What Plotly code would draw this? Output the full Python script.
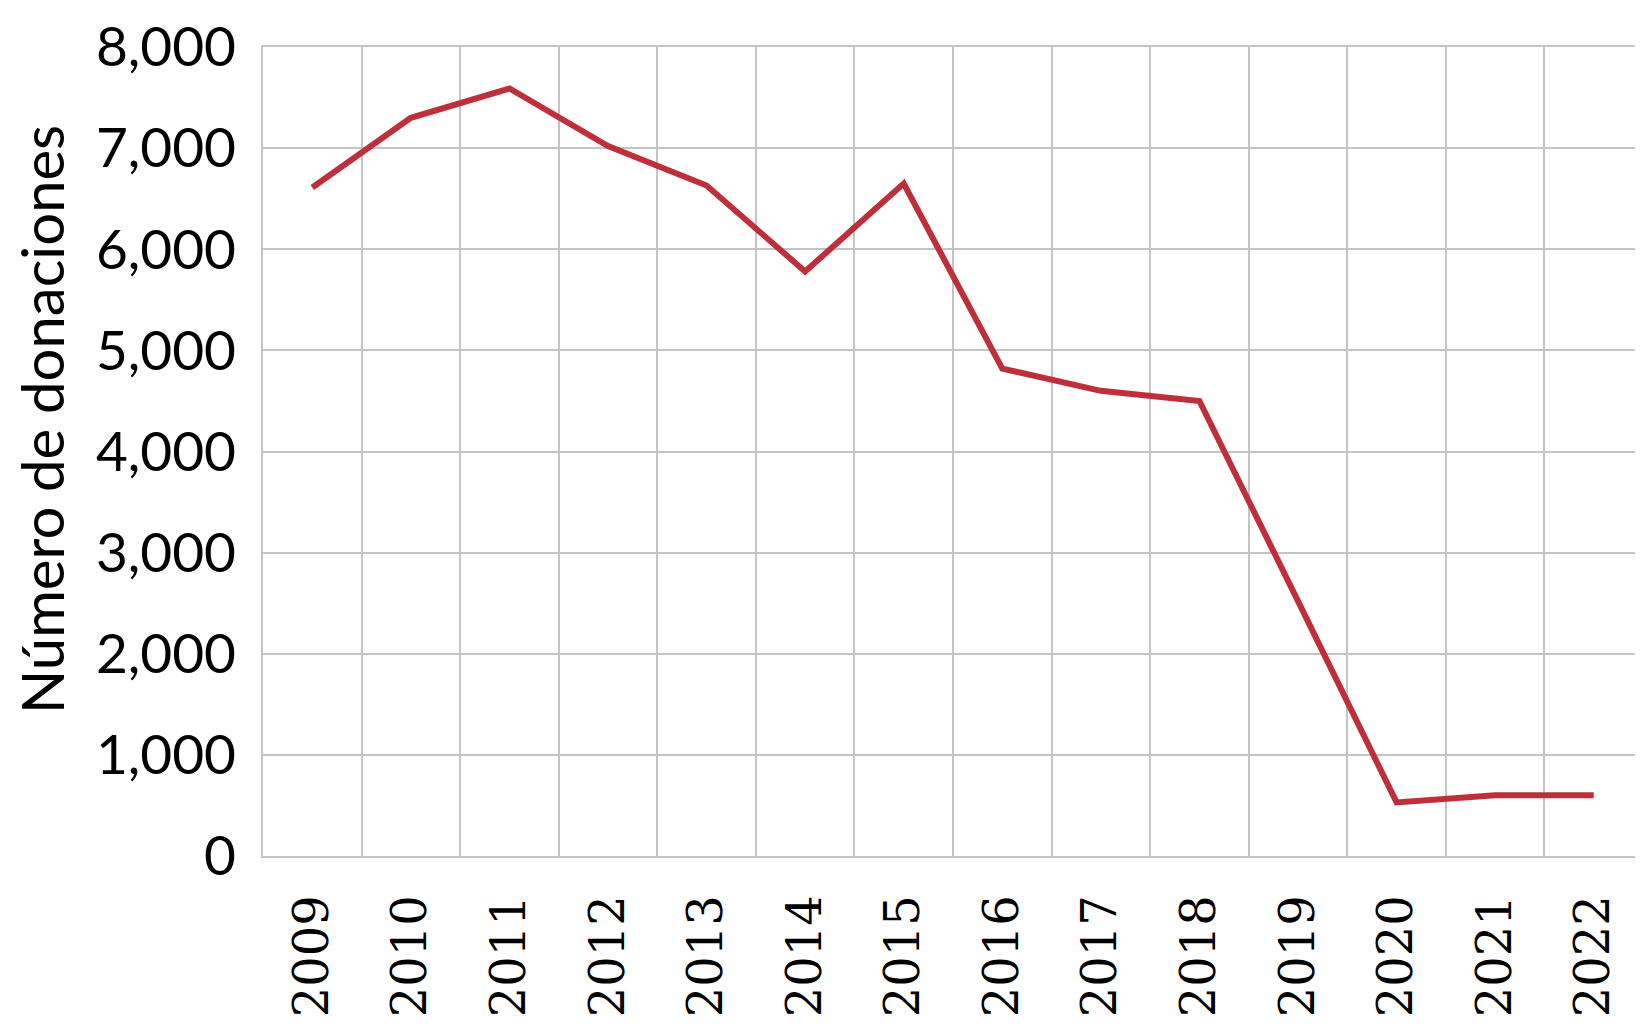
import plotly.graph_objects as go

years = [str(y) for y in range(2009, 2023)]
donaciones = [6610, 7300, 7590, 7020, 6630, 5780, 6650, 4820, 4600, 4500, 2520, 530, 600, 600]
y_ticks = [0, 1000, 2000, 3000, 4000, 5000, 6000, 7000, 8000]
y_ticklabels = ["0", "1,000", "2,000", "3,000", "4,000", "5,000", "6,000", "7,000", "8,000"]
y_title = "Número de donaciones"

fig = go.Figure()
fig.add_trace(go.Scatter(
    x=years, y=donaciones, mode="lines",
    line=dict(color="#BE2F3B", width=6),
    showlegend=False,
))

fig.update_layout(
    width=1635, height=1016,
    margin=dict(l=255, r=0, t=39, b=168),
    paper_bgcolor="white", plot_bgcolor="white",
    xaxis=dict(
        type="category", tickson="boundaries", range=[-0.5, 13.5],
        showgrid=True, gridcolor="#C4C4C4", gridwidth=2,
        showline=True, linecolor="#C4C4C4", linewidth=2, mirror=True,
        ticks="", tickangle=-90, automargin=False,
        tickfont=dict(family="DejaVu Serif", size=48, color="black"),
        ticklabelstandoff=18,
    ),
    yaxis=dict(
        range=[0, 8000], tickvals=y_ticks, ticktext=y_ticklabels,
        showgrid=True, gridcolor="#C4C4C4", gridwidth=2,
        showline=True, linecolor="#C4C4C4", linewidth=2, mirror=True,
        zeroline=False, ticks="", automargin=False,
        tickfont=dict(family="Lato", size=55, color="black"),
        ticklabelstandoff=14,
    ),
    annotations=[dict(
        text=y_title, textangle=-90, xref="paper", yref="paper",
        x=-0.161, y=0.54, xanchor="center", yanchor="middle",
        showarrow=False, font=dict(family="Lato", size=58, color="black"),
    )],
)

fig.write_html("out.html")
